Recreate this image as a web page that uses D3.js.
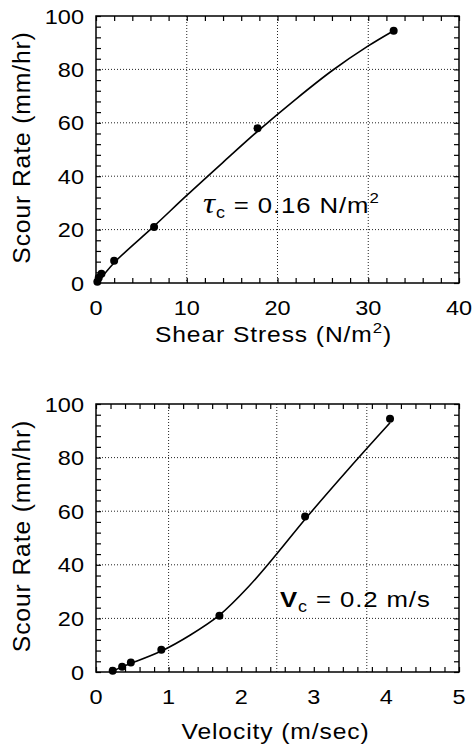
<!DOCTYPE html>
<html>
<head>
<meta charset="utf-8">
<script src="https://cdn.jsdelivr.net/npm/d3@7"></script>
<style>
html,body{margin:0;padding:0;background:#fff;}
svg{display:block;}
text{font-family:"Liberation Sans",Arial,Helvetica,sans-serif;fill:#000;}
</style>
</head>
<body>
<script>
// ---- data ----
const scourRate   = [0.5, 2, 3.5, 8.3, 21, 58, 94.5];
const shearStress = [0.15, 0.3, 0.6, 2.0, 6.4, 17.8, 32.8];
const velocity    = [0.23, 0.36, 0.48, 0.9, 1.7, 2.88, 4.05];

// fitted curves
const shearFitX = [0.16, 2, 6.4, 10, 14, 17.8, 22, 26, 30, 32.8];
const shearFitY = [0, 7.6, 21.3, 32.8, 45.2, 56.8, 68.8, 79.5, 88.8, 94.5];
const velFitX   = [0.21, 0.36, 0.5, 0.9, 1.3, 1.7, 2.1, 2.5, 2.88, 3.5, 4.05];
const velFitY   = [0, 2.0, 3.4, 7.8, 13.8, 21.2, 31.8, 44.4, 57, 76.4, 93];

// tick labels / grid
const rateTicks  = [0, 20, 40, 60, 80, 100];
const rateGrid   = [20, 40, 60, 80];
const shearTicks = [0, 10, 20, 30, 40];
const shearGrid  = [10, 20, 30];
const velTicks   = [0, 1, 2, 3, 4, 5];
const velGrid    = [1, 2.49, 3.73];

const W = 475, H = 746;
const svg = d3.select("body").append("svg").attr("width", W).attr("height", H);

const panels = [
  { xDomain:[0,40], xTicks:shearTicks, xGrid:shearGrid, xMinor:2,
    px:shearStress, fitX:shearFitX, fitY:shearFitY, top:16, bottom:283 },
  { xDomain:[0,5], xTicks:velTicks, xGrid:velGrid, xMinor:0.2,
    px:velocity, fitX:velFitX, fitY:velFitY, top:404, bottom:672 }
];
const left = 96, right = 459;

panels.forEach(p => {
  const x = d3.scaleLinear().domain(p.xDomain).range([left, right]);
  const y = d3.scaleLinear().domain([0, 100]).range([p.bottom, p.top]);
  const g = svg.append("g");

  // grid
  g.selectAll(".gx").data(p.xGrid).join("line")
    .attr("x1", d => x(d)).attr("x2", d => x(d))
    .attr("y1", p.top).attr("y2", p.bottom)
    .attr("stroke", "#222").attr("stroke-width", 1).attr("stroke-dasharray", "1,2");
  g.selectAll(".gy").data(rateGrid).join("line")
    .attr("y1", d => y(d)).attr("y2", d => y(d))
    .attr("x1", left).attr("x2", right)
    .attr("stroke", "#222").attr("stroke-width", 1).attr("stroke-dasharray", "1,2");

  // minor ticks, inward on all four sides
  const xm = d3.range(p.xDomain[0], p.xDomain[1] + 1e-9, p.xMinor);
  const ym = d3.range(0, 100 + 1e-9, 4);
  const tk = 5;
  g.append("g").attr("transform", `translate(0,${p.bottom})`)
    .call(d3.axisBottom(x).tickValues(xm).tickSize(-tk).tickFormat(""));
  g.append("g").attr("transform", `translate(0,${p.top})`)
    .call(d3.axisTop(x).tickValues(xm).tickSize(-tk).tickFormat(""));
  g.append("g").attr("transform", `translate(${left},0)`)
    .call(d3.axisLeft(y).tickValues(ym).tickSize(-tk).tickFormat(""));
  g.append("g").attr("transform", `translate(${right},0)`)
    .call(d3.axisRight(y).tickValues(ym).tickSize(-tk).tickFormat(""));
  g.selectAll(".domain").remove();
  g.selectAll(".tick line").attr("stroke", "#000").attr("stroke-width", 1.2);

  // frame
  g.append("rect").attr("x", left).attr("y", p.top)
    .attr("width", right - left).attr("height", p.bottom - p.top)
    .attr("fill", "none").attr("stroke", "#000").attr("stroke-width", 1.5);

  // tick labels
  g.selectAll(".xl").data(p.xTicks).join("text")
    .attr("transform", d => `translate(${x(d)},${p.bottom + 32}) scale(1.12,1)`)
    .attr("text-anchor", "middle").attr("font-size", 21).text(d => d);
  g.selectAll(".yl").data(rateTicks).join("text")
    .attr("transform", d => `translate(84,${y(d) + 7.5}) scale(1.12,1)`)
    .attr("text-anchor", "end").attr("font-size", 21).text(d => d);

  // y title
  g.append("text")
    .attr("transform", `translate(30,${(p.top + p.bottom) / 2 - 2}) rotate(-90) scale(1.12,1.1)`)
    .attr("text-anchor", "middle").attr("font-size", 22).attr("letter-spacing", 0.8)
    .text("Scour Rate (mm/hr)");

  // fit curve
  const line = d3.line().x(d => x(d[0])).y(d => y(d[1])).curve(d3.curveCatmullRom.alpha(0.5));
  g.append("path").datum(d3.zip(p.fitX, p.fitY))
    .attr("d", line).attr("fill", "none").attr("stroke", "#000").attr("stroke-width", 1.6);

  // points
  g.selectAll(".pt").data(d3.zip(p.px, scourRate)).join("circle")
    .attr("cx", d => x(d[0])).attr("cy", d => y(d[1])).attr("r", 4).attr("fill", "#000");
});

// x titles
const t1 = svg.append("text")
  .attr("transform", `translate(${(left + right) / 2 - 4},342) scale(1.12,1)`)
  .attr("text-anchor", "middle").attr("font-size", 22).attr("letter-spacing", 0.8);
t1.append("tspan").text("Shear Stress (N/m");
t1.append("tspan").attr("font-size", 15).attr("dy", -9).text("2");
t1.append("tspan").attr("dy", 9).text(")");

svg.append("text")
  .attr("transform", `translate(${(left + right) / 2 - 2},739) scale(1.12,1)`)
  .attr("text-anchor", "middle").attr("font-size", 22).attr("letter-spacing", 0.8)
  .text("Velocity (m/sec)");

// annotations
const a1 = svg.append("text")
  .attr("transform", "translate(203,213) scale(1.12,1)").attr("font-size", 23).attr("letter-spacing", 0.8);
a1.append("tspan").attr("font-family", "Liberation Serif, serif").attr("font-style", "italic")
  .attr("font-size", 30).text("τ");
a1.append("tspan").attr("font-size", 16).attr("dy", 5).text("c");
a1.append("tspan").attr("dy", -5).text(" = 0.16 N/m");
a1.append("tspan").attr("font-size", 15).attr("dy", -10).text("2");

const a2 = svg.append("text")
  .attr("transform", "translate(280,607) scale(1.12,1)").attr("font-size", 23).attr("letter-spacing", 0.8);
a2.append("tspan").attr("font-weight", "bold").text("V");
a2.append("tspan").attr("font-size", 16).attr("dy", 5).text("c");
a2.append("tspan").attr("dy", -5).text(" = 0.2 m/s");
</script>
</body>
</html>
